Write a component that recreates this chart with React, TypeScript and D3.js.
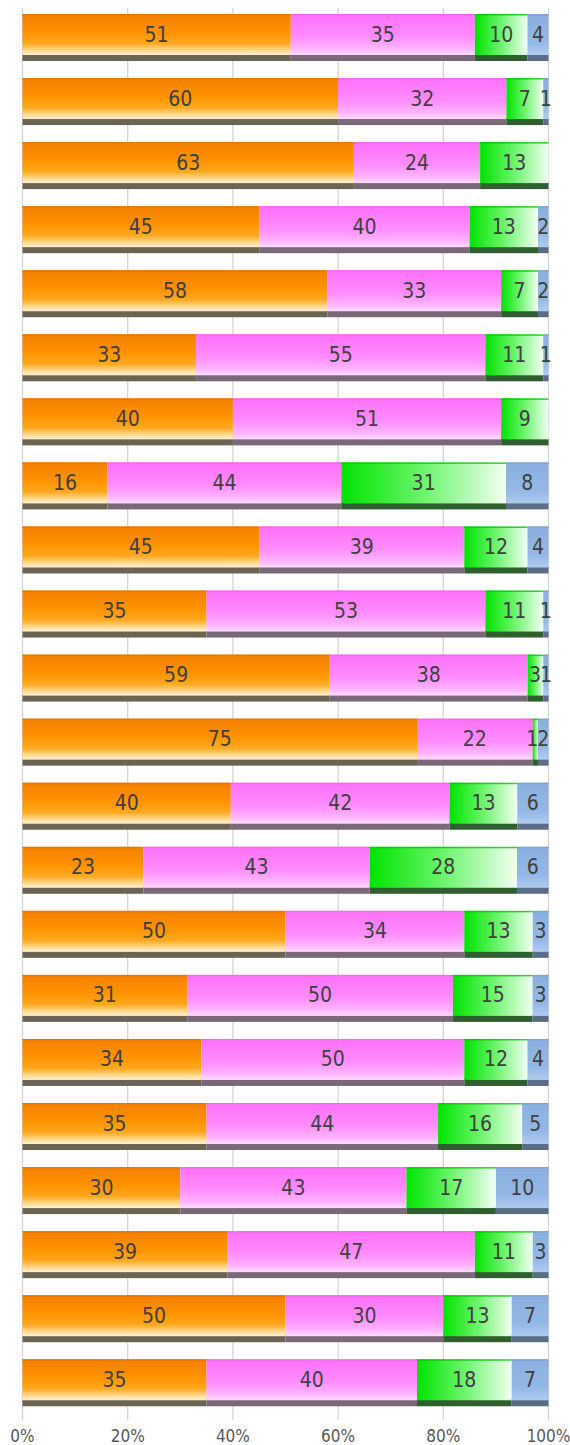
import * as d3 from "d3";

const rows = [
  "r1", "r2", "r3", "r4", "r5", "r6", "r7", "r8", "r9", "r10", "r11",
  "r12", "r13", "r14", "r15", "r16", "r17", "r18", "r19", "r20", "r21", "r22",
];
const seriesKeys = ["orange", "pink", "green", "blue"];

const orangeValues = [51, 60, 63, 45, 58, 33, 40, 16, 45, 35, 59, 75, 40, 23, 50, 31, 34, 35, 30, 39, 50, 35];
const pinkValues = [35, 32, 24, 40, 33, 55, 51, 44, 39, 53, 38, 22, 42, 43, 34, 50, 50, 44, 43, 47, 30, 40];
const greenValues = [10, 7, 13, 13, 7, 11, 9, 31, 12, 11, 3, 1, 13, 28, 13, 15, 12, 16, 17, 11, 13, 18];
const blueValues = [4, 1, 0, 2, 2, 1, 0, 8, 4, 1, 1, 2, 6, 6, 3, 3, 4, 5, 10, 3, 7, 7];

const tickValues = [0, 0.2, 0.4, 0.6, 0.8, 1];

type Row = { id: string; orange: number; pink: number; green: number; blue: number };

const table: Row[] = rows.map((id, i) => ({
  id,
  orange: orangeValues[i],
  pink: pinkValues[i],
  green: greenValues[i],
  blue: blueValues[i],
}));

export default function App() {
  const width = 570;
  const height = 1445;
  const x0 = 22.5;
  const x1 = 548.5;
  const faceH = 41;
  const depth = 6;
  const step = 64.06;
  const bandH = faceH + depth;

  const xScale = d3.scaleLinear().domain([0, 1]).range([x0, x1]);
  const pad = 1 - bandH / step;
  const yScale = d3
    .scaleBand()
    .domain(rows)
    .range([14, 14 + rows.length * step - (step - bandH)])
    .paddingInner(pad)
    .paddingOuter(0);

  const stacked = d3
    .stack<Row>()
    .keys(seriesKeys)
    .offset(d3.stackOffsetExpand)(table);

  const depthColor: Record<string, string> = {
    orange: "#6c6453",
    pink: "#7a6878",
    green: "#2e5f2e",
    blue: "#5a6d88",
  };
  const topColor: Record<string, string> = {
    orange: "#e87400",
    pink: "#f06ae8",
    green: "#00c800",
    blue: "#7aa2d4",
  };

  const font = "'Liberation Sans Narrow', 'DejaVu Sans Condensed', 'Noto Sans', sans-serif";

  // label positions per row, nudged apart when tiny segments crowd together
  const labels = rows.flatMap((id, i) => {
    const items = stacked
      .map((s) => {
        const d = s[i];
        const v = d.data[s.key as keyof Row] as number;
        return { key: s.key, v, cx: (xScale(d[0]) + xScale(d[1])) / 2 };
      })
      .filter((l) => l.v > 0);
    for (let k = items.length - 2; k >= 0; k--) {
      const minGap = 5.5 * (String(items[k].v).length + String(items[k + 1].v).length);
      if (items[k + 1].cx - items[k].cx < minGap) items[k].cx = items[k + 1].cx - minGap;
    }
    return items.map((l) => ({ ...l, id }));
  });

  return (
    <svg width={width} height={height} style={{ display: "block", position: "absolute", left: 0, top: 0 }}>
      <defs>
        <linearGradient id="g-orange" x1="0" y1="0" x2="0" y2="1">
          <stop offset="0" stopColor="#f47f00" />
          <stop offset="0.45" stopColor="#ff9300" />
          <stop offset="0.72" stopColor="#ffa820" />
          <stop offset="0.9" stopColor="#ffdc98" />
          <stop offset="1" stopColor="#fff0d4" />
        </linearGradient>
        <linearGradient id="g-pink" x1="0" y1="0" x2="0" y2="1">
          <stop offset="0" stopColor="#ff70f8" />
          <stop offset="0.55" stopColor="#ff8cff" />
          <stop offset="0.85" stopColor="#ffb4ff" />
          <stop offset="1" stopColor="#ffdcff" />
        </linearGradient>
        <linearGradient id="g-green" x1="0" y1="0" x2="1" y2="0">
          <stop offset="0" stopColor="#00e400" />
          <stop offset="0.5" stopColor="#6cf46c" />
          <stop offset="1" stopColor="#f2fff2" />
        </linearGradient>
        <linearGradient id="g-blue" x1="0" y1="0" x2="0" y2="1">
          <stop offset="0" stopColor="#88afe0" />
          <stop offset="0.7" stopColor="#94b9e6" />
          <stop offset="1" stopColor="#b0cbee" />
        </linearGradient>
      </defs>

      {tickValues.map((t) => (
        <g key={t}>
          <line
            x1={xScale(t)}
            x2={xScale(t)}
            y1={8}
            y2={1420}
            stroke="#d4d4d4"
            strokeWidth={1.3}
          />
          <text
            x={xScale(t)}
            y={1437}
            textAnchor="middle"
            dominantBaseline="middle"
            fontSize={17}
            fontFamily={font}
            fill="#595959"
          >
            {`${Math.round(t * 100)}%`}
          </text>
        </g>
      ))}

      {stacked.map((s) =>
        s.map((d) => {
          const id = d.data.id;
          const y = yScale(id) ?? 0;
          const xa = xScale(d[0]);
          const xb = xScale(d[1]);
          const w = xb - xa;
          if (w <= 0) return null;
          return (
            <g key={`${s.key}-${id}`}>
              <rect x={xa} y={y + faceH - 1} width={w} height={depth + 1} fill={depthColor[s.key]} />
              <rect x={xa} y={y} width={w} height={faceH} fill={`url(#g-${s.key})`} />
              <rect x={xa} y={y} width={w} height={1.5} fill={topColor[s.key]} opacity={0.8} />
            </g>
          );
        })
      )}

      {labels.map((l) => (
        <text
          key={`t-${l.key}-${l.id}`}
          x={l.cx}
          y={(yScale(l.id) ?? 0) + faceH / 2 + 1}
          textAnchor="middle"
          dominantBaseline="middle"
          fontSize={21}
          fontFamily={font}
          fill="#404040"
        >
          {l.v}
        </text>
      ))}
    </svg>
  );
}
